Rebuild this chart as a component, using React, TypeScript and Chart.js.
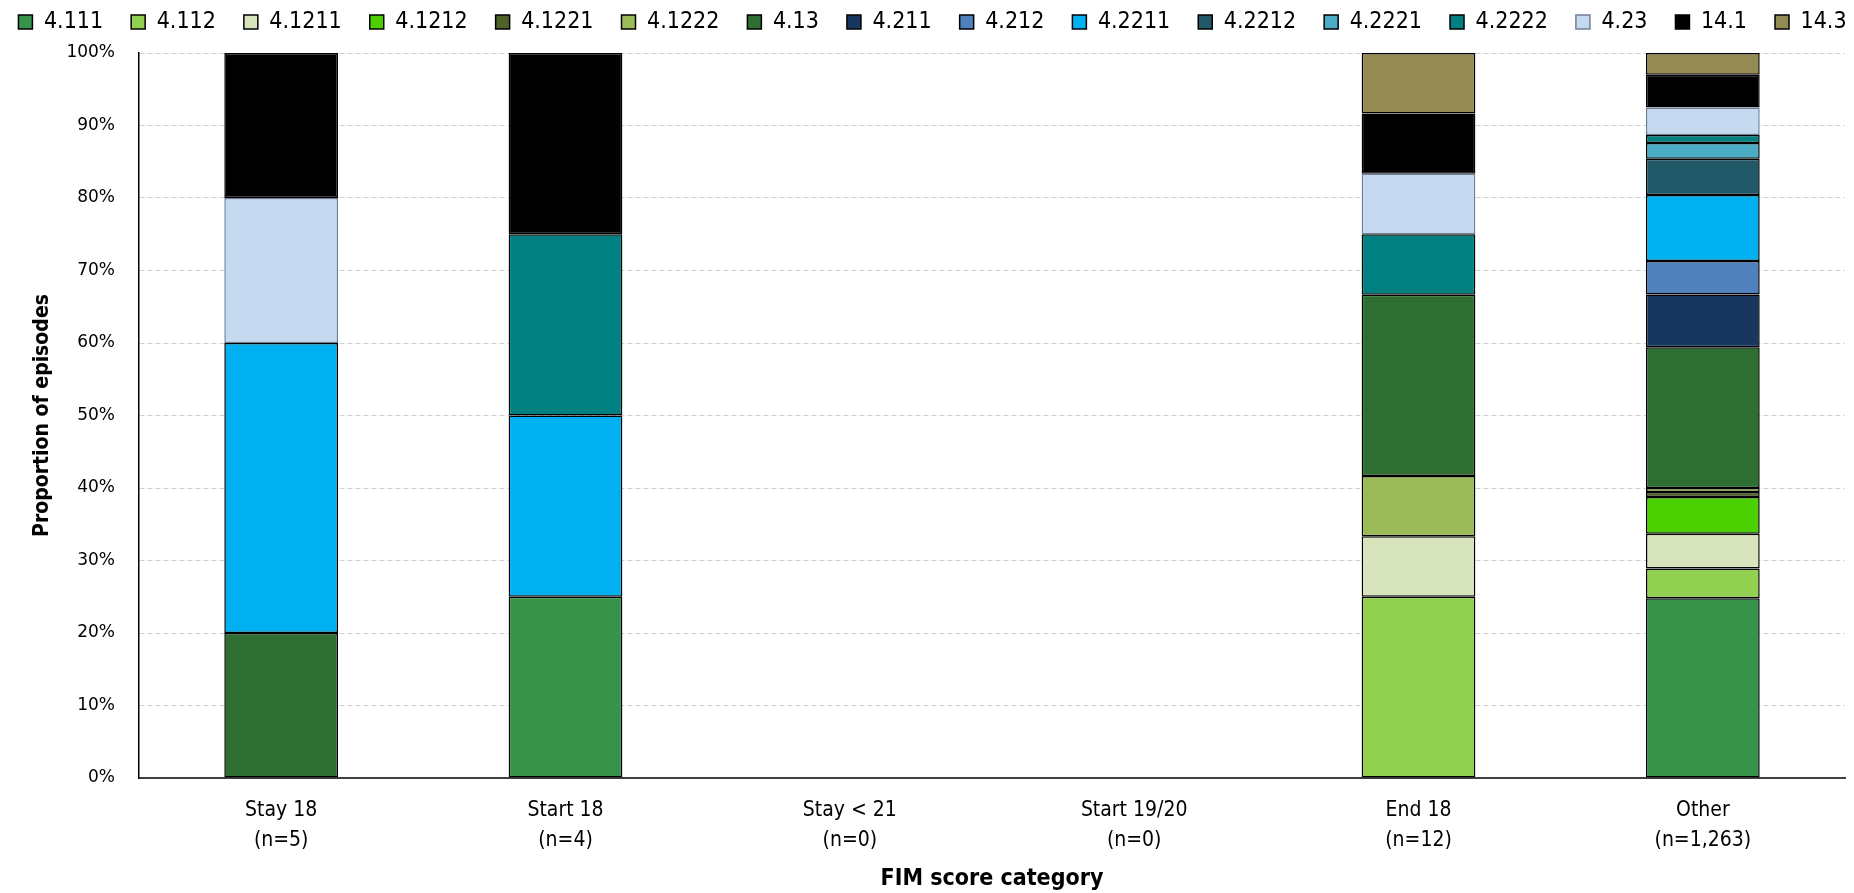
import React, { useEffect, useRef } from 'react';
import { Chart, registerables } from 'chart.js';

Chart.register(...registerables);

// ---- Data ----
const categories: string[][] = [
  ['Stay 18', '(n=5)'],
  ['Start 18', '(n=4)'],
  ['Stay < 21', '(n=0)'],
  ['Start 19/20', '(n=0)'],
  ['End 18', '(n=12)'],
  ['Other', '(n=1,263)'],
];

const seriesNames = [
  '4.111', '4.112', '4.1211', '4.1212', '4.1221', '4.1222', '4.13', '4.211',
  '4.212', '4.2211', '4.2212', '4.2221', '4.2222', '4.23', '14.1', '14.3',
];

const seriesColors = [
  '#37934A', '#92D050', '#D8E4BC', '#4CD000', '#4F6228', '#9BBB59', '#2E6E30', '#17375E',
  '#4F81BD', '#00B0F0', '#215968', '#4BACC6', '#008080', '#C5D9F1', '#000000', '#948A54',
];

// values in percent of episodes per category (null = none)
const v4_111 = [null, 25, null, null, null, 24.8];
const v4_112 = [null, null, null, null, 25, 4.1];
const v4_1211 = [null, null, null, null, 8.333, 4.8];
const v4_1212 = [null, null, null, null, null, 5.05];
const v4_1221 = [null, null, null, null, null, 0.7];
const v4_1222 = [null, null, null, null, 8.333, 0.55];
const v4_13 = [20, null, null, null, 25, 19.4];
const v4_211 = [null, null, null, null, null, 7.3];
const v4_212 = [null, null, null, null, null, 4.6];
const v4_2211 = [40, 25, null, null, null, 9.1];
const v4_2212 = [null, null, null, null, null, 5.0];
const v4_2221 = [null, null, null, null, null, 2.2];
const v4_2222 = [null, 25, null, null, 8.333, 1.1];
const v4_23 = [20, null, null, null, 8.333, 3.8];
const v14_1 = [20, 25, null, null, 8.334, 4.5];
const v14_3 = [null, null, null, null, 8.333, 3.0];

const seriesValues = [
  v4_111, v4_112, v4_1211, v4_1212, v4_1221, v4_1222, v4_13, v4_211,
  v4_212, v4_2211, v4_2212, v4_2221, v4_2222, v4_23, v14_1, v14_3,
];

const yTicks = [0, 10, 20, 30, 40, 50, 60, 70, 80, 90, 100];

const COND = "'DejaVu Sans Condensed', 'Liberation Sans Narrow', 'DejaVu Sans', sans-serif";
const WIDE = "'DejaVu Sans', sans-serif";

const LEGEND_FONT = 23;
const LEGEND_PAD = 28;
const LEGEND_H = 53;
const LEGEND_TOP = 22 - LEGEND_PAD - LEGEND_FONT / 2;
const LEGEND_SHIFT = 10;

const legendPatch = {
  id: 'legendPatch',
  beforeLayout(chart: any) {
    const lg = chart.legend;
    if (lg && !lg._patched) {
      const f = lg.fit;
      lg.fit = function () {
        const mw = this.maxWidth;
        this.maxWidth = 5000;
        f.call(this);
        this.maxWidth = mw;
        this.width = mw;
        this.height = LEGEND_H;
      };
      lg._patched = true;
    }
  },
  afterLayout(chart: any) {
    const lg = chart.legend;
    if (lg) {
      lg.top = LEGEND_TOP;
      lg.bottom = LEGEND_TOP + LEGEND_H;
      lg.left = lg.left - 200 + LEGEND_SHIFT;
      lg.right = lg.right + 200 + LEGEND_SHIFT;
    }
  },
};

export default function App() {
  const ref = useRef<HTMLCanvasElement | null>(null);

  useEffect(() => {
    if (!ref.current) return;
    const datasets = seriesNames.map((name, i) => ({
      label: name,
      data: seriesValues[i],
      backgroundColor: seriesColors[i],
      borderColor: name === '4.23' ? '#6F7F96' : '#000000',
      borderWidth: 1.5,
      borderSkipped: false as const,
      barPercentage: 0.4,
      categoryPercentage: 1.0,
    }));

    const chart = new Chart(ref.current, {
      type: 'bar',
      data: { labels: categories, datasets },
      plugins: [legendPatch],
      options: {
        animation: false,
        responsive: true,
        maintainAspectRatio: false,
        layout: { padding: { left: 0, right: 9, top: 0, bottom: 0 } },
        plugins: {
          tooltip: { enabled: false },
          legend: {
            position: 'top',
            labels: {
              boxWidth: 14,
              boxHeight: 14,
              padding: LEGEND_PAD,
              color: '#000',
              font: { family: COND, size: LEGEND_FONT },
            },
          },
        },
        scales: {
          x: {
            stacked: true,
            grid: { display: false, drawTicks: false },
            border: { display: true, color: '#404040', width: 2 },
            ticks: {
              color: '#000',
              maxRotation: 0,
              padding: 17,
              font: { family: COND, size: 21, lineHeight: 1.45 },
            },
            title: {
              display: true,
              text: 'FIM score category',
              color: '#000',
              font: { family: COND, size: 23, weight: 'bold', lineHeight: 1.2 },
              padding: { top: 3, bottom: 0 },
            },
            afterFit(scale: any) {
              scale.height = 115;
            },
          },
          y: {
            stacked: true,
            min: 0,
            max: 100,
            afterBuildTicks(scale: any) {
              scale.ticks = yTicks.map((v) => ({ value: v }));
            },
            grid: {
              color: (ctx: any) => (ctx.tick && ctx.tick.value === 0 ? 'rgba(0,0,0,0)' : '#D0D0D0'),
              lineWidth: 1,
              drawTicks: false,
            },
            border: { display: true, color: '#000', width: 1.5, dash: [5, 3] },
            ticks: {
              color: '#000',
              padding: 24,
              font: { family: WIDE, size: 17 },
              callback: (v: any) => `${v}%`,
            },
            title: {
              display: true,
              text: 'Proportion of episodes',
              color: '#000',
              font: { family: COND, size: 21, weight: 'bold', lineHeight: 1.2 },
              padding: { top: 30, bottom: 0 },
            },
            afterFit(scale: any) {
              scale.width = 139;
            },
          },
        },
      } as any,
    });
    return () => chart.destroy();
  }, []);

  return (
    <div style={{ position: 'fixed', left: 0, top: 0, width: 1854, height: 893, background: '#fff' }}>
      <canvas ref={ref} style={{ width: 1854, height: 893 }} />
    </div>
  );
}
